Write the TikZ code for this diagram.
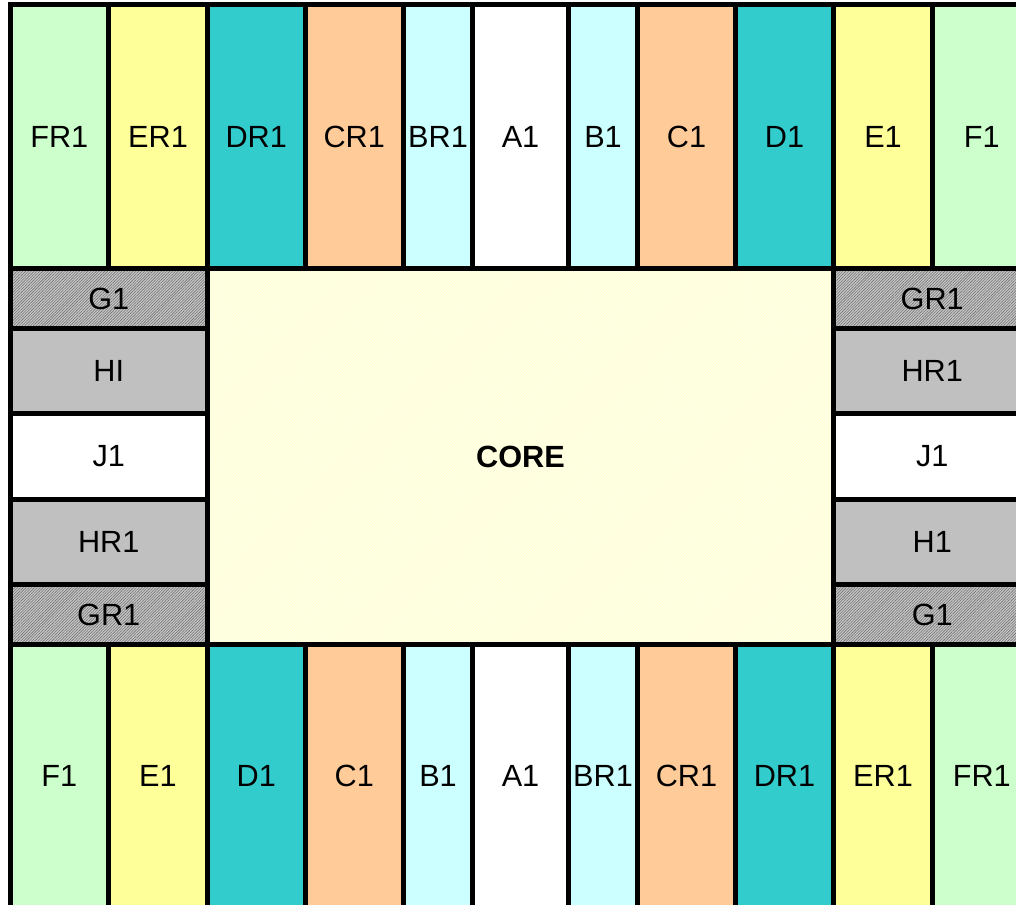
\documentclass[tikz,border=0pt]{standalone}
\usepackage{fontspec}
\setmainfont{Liberation Sans}
\usetikzlibrary{patterns.meta}

\definecolor{padgreen}{HTML}{CCFFCC}
\definecolor{padyellow}{HTML}{FFFF99}
\definecolor{padteal}{HTML}{33CCCC}
\definecolor{padpeach}{HTML}{FFCC99}
\definecolor{padcyan}{HTML}{CCFFFF}
\definecolor{padgray}{HTML}{C0C0C0}
\definecolor{coreyellow}{HTML}{FFFFE8}

\tikzset{
  cell/.style={draw=black, line width=3.75pt},
  hatched/.style={cell, preaction={fill=black!22},
    pattern={Lines[angle=45,distance=1.5pt,line width=0.45pt]}, pattern color=black!55},
  corefill/.style={cell, preaction={fill=coreyellow},
    pattern={Lines[angle=45,distance=1.6pt,line width=0.4pt]}, pattern color=yellow!18},
  padlabel/.style={font=\fontsize{23}{27}\selectfont}
}

\begin{document}
\begin{tikzpicture}[x=0.75pt, y=-0.75pt]
    \useasboundingbox (0,0) rectangle (1016,905);
    \clip (0,0) rectangle (1016,905);

    % Top row of pads
    \foreach \xa/\xb/\col/\lbl/\nm in {10/108.5/padgreen/FR1/tfr, 108.5/207.5/padyellow/ER1/ter,
        207.5/305/padteal/DR1/tdr, 305/403.5/padpeach/CR1/tcr, 403.5/472.5/padcyan/BR1/tbr,
        472.5/568.5/white/A1/ta, 568.5/637.5/padcyan/B1/tb, 637.5/735.5/padpeach/C1/tc,
        735.5/833.5/padteal/D1/td, 833.5/932.5/padyellow/E1/te, 932.5/1031/padgreen/F1/tf} {
      \draw[cell, fill=\col] (\xa,5) rectangle (\xb,268.5);
      \node[padlabel] (\nm) at ({(\xa+\xb)/2},136.75) {\lbl};
    }

    % Bottom row of pads
    \foreach \xa/\xb/\col/\lbl/\nm in {10/108.5/padgreen/F1/bf, 108.5/207.5/padyellow/E1/be,
        207.5/305/padteal/D1/bd, 305/403.5/padpeach/C1/bc, 403.5/472.5/padcyan/B1/bb,
        472.5/568.5/white/A1/ba, 568.5/637.5/padcyan/BR1/bbr, 637.5/735.5/padpeach/CR1/bcr,
        735.5/833.5/padteal/DR1/bdr, 833.5/932.5/padyellow/ER1/ber, 932.5/1031/padgreen/FR1/bfr} {
      \draw[cell, fill=\col] (\xa,644.5) rectangle (\xb,908);
      \node[padlabel] (\nm) at ({(\xa+\xb)/2},776.25) {\lbl};
    }

    % Left side pads
    \draw[hatched] (10,268.5) rectangle (207.5,328.5);
    \node[padlabel] (lg) at (108.75,298.5) {G1};
    \draw[cell, fill=padgray] (10,328.5) rectangle (207.5,413.5);
    \node[padlabel] (lh) at (108.75,371) {HI};
    \draw[cell, fill=white] (10,413.5) rectangle (207.5,499.5);
    \node[padlabel] (lj) at (108.75,456.5) {J1};
    \draw[cell, fill=padgray] (10,499.5) rectangle (207.5,584.5);
    \node[padlabel] (lhr) at (108.75,542) {HR1};
    \draw[hatched] (10,584.5) rectangle (207.5,644.5);
    \node[padlabel] (lgr) at (108.75,614.5) {GR1};

    % Right side pads
    \draw[hatched] (833.5,268.5) rectangle (1031,328.5);
    \node[padlabel] (rgr) at (932.25,298.5) {GR1};
    \draw[cell, fill=padgray] (833.5,328.5) rectangle (1031,413.5);
    \node[padlabel] (rhr) at (932.25,371) {HR1};
    \draw[cell, fill=white] (833.5,413.5) rectangle (1031,499.5);
    \node[padlabel] (rj) at (932.25,456.5) {J1};
    \draw[cell, fill=padgray] (833.5,499.5) rectangle (1031,584.5);
    \node[padlabel] (rh) at (932.25,542) {H1};
    \draw[hatched] (833.5,584.5) rectangle (1031,644.5);
    \node[padlabel] (rg) at (932.25,614.5) {G1};

    % Core
    \draw[corefill] (207.5,268.5) rectangle (833.5,644.5);
    \node[padlabel, font=\fontsize{23}{27}\selectfont\bfseries] (core) at (520.5,456.5) {CORE};
\end{tikzpicture}
\end{document}
